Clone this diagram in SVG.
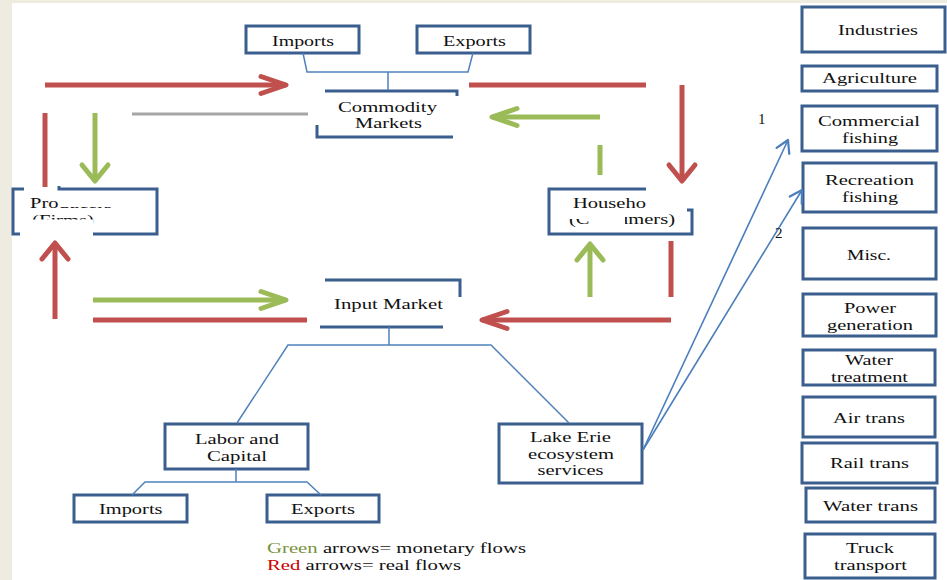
<svg xmlns="http://www.w3.org/2000/svg" width="947" height="580" viewBox="0 0 947 580">
<style>
.bg{fill:#EEECE1}
.box{fill:#fff;stroke:#3A5F8E;stroke-width:3}
.open{fill:none;stroke:#3A5F8E;stroke-width:3}
.patch{fill:#fff}
.t{font-family:"Liberation Serif","Times New Roman","DejaVu Serif",serif;font-size:15px;fill:#111}
.tree{fill:none;stroke:#4F81BD;stroke-width:1.5}
.red{fill:none;stroke:#C0504D;stroke-width:5}
.green{fill:none;stroke:#9BBB59;stroke-width:5}
.blue{fill:none;stroke:#4A7EBB;stroke-width:1.6}
.gray{fill:none;stroke:#A6A6A6;stroke-width:3}
</style>
<defs>
<marker id="rh" viewBox="-30 -15 34 30" refX="0" refY="0" markerWidth="34" markerHeight="30" markerUnits="userSpaceOnUse" orient="auto"><path d="M-25,-8.5 L0,0 L-25,8.5" fill="none" stroke="#C0504D" stroke-width="5" stroke-linecap="round" stroke-linejoin="round"/></marker>
<marker id="rv" viewBox="-22 -18 26 36" refX="0" refY="0" markerWidth="26" markerHeight="36" markerUnits="userSpaceOnUse" orient="auto"><path d="M-16,-13 L0,0 L-16,13" fill="none" stroke="#C0504D" stroke-width="5" stroke-linecap="round" stroke-linejoin="round"/></marker>
<marker id="gh" viewBox="-30 -15 34 30" refX="0" refY="0" markerWidth="34" markerHeight="30" markerUnits="userSpaceOnUse" orient="auto"><path d="M-25,-8.5 L0,0 L-25,8.5" fill="none" stroke="#9BBB59" stroke-width="5" stroke-linecap="round" stroke-linejoin="round"/></marker>
<marker id="gv" viewBox="-22 -18 26 36" refX="0" refY="0" markerWidth="26" markerHeight="36" markerUnits="userSpaceOnUse" orient="auto"><path d="M-16,-13 L0,0 L-16,13" fill="none" stroke="#9BBB59" stroke-width="5" stroke-linecap="round" stroke-linejoin="round"/></marker>
<marker id="bl" viewBox="-16 -10 20 20" refX="0" refY="0" markerWidth="20" markerHeight="20" markerUnits="userSpaceOnUse" orient="auto"><path d="M-12,-7 L0,0 L-12,7" fill="none" stroke="#4A7EBB" stroke-width="2.2" stroke-linecap="round" stroke-linejoin="round"/></marker>
</defs>
<rect class="bg" x="0" y="0" width="947" height="580"/>
<rect fill="#fff" x="12" y="3" width="935" height="577"/>

<g id="imports-top"><rect class="box" x="246" y="26" width="113" height="27"/><text class="t" x="272" y="46" textLength="62" lengthAdjust="spacingAndGlyphs">Imports</text></g>
<g id="exports-top"><rect class="box" x="417" y="26" width="113" height="27"/><text class="t" x="443" y="46" textLength="63" lengthAdjust="spacingAndGlyphs">Exports</text></g>
<g id="commodity-markets"><path class="open" d="M325,91 H457 V96 M317,125 V137 H453"/><text class="t" x="338" y="111.5" textLength="99" lengthAdjust="spacingAndGlyphs">Commodity</text><text class="t" x="355" y="127.5" textLength="67" lengthAdjust="spacingAndGlyphs">Markets</text></g>
<g id="producers"><path class="open" d="M24,189 H13 V234 H20 M59,186 V189 H157 V234 H93"/><text class="t" x="30" y="208" textLength="82" lengthAdjust="spacingAndGlyphs">Producers</text><text class="t" x="32" y="225" textLength="62" lengthAdjust="spacingAndGlyphs">(Firms)</text><rect class="patch" x="58.5" y="192" width="56" height="15"/><rect class="patch" x="20" y="219.5" width="73" height="59"/></g>
<g id="households"><path class="open" d="M646,189 H549 V234 H692 V210 H687"/><text class="t" x="573" y="208" textLength="97" lengthAdjust="spacingAndGlyphs">Households</text><text class="t" x="569" y="224" textLength="106" lengthAdjust="spacingAndGlyphs">(Consumers)</text><rect class="patch" x="646" y="192" width="40" height="16"/><rect class="patch" x="589" y="209" width="36" height="20"/><rect class="patch" x="566" y="209" width="24" height="10"/></g>
<g id="input-market"><path class="open" d="M325,280 H460 V297 M320,327 H443"/><text class="t" x="334" y="309" textLength="109" lengthAdjust="spacingAndGlyphs">Input Market</text></g>
<g id="labor-capital"><rect class="box" x="165" y="424" width="143" height="45"/><text class="t" x="195" y="444" textLength="84" lengthAdjust="spacingAndGlyphs">Labor and</text><text class="t" x="207" y="461" textLength="60" lengthAdjust="spacingAndGlyphs">Capital</text></g>
<g id="lake-erie"><rect class="box" x="499" y="424" width="143" height="59"/><text class="t" x="530" y="442" textLength="81" lengthAdjust="spacingAndGlyphs">Lake Erie</text><text class="t" x="528" y="459" textLength="86" lengthAdjust="spacingAndGlyphs">ecosystem</text><text class="t" x="537.5" y="475" textLength="66" lengthAdjust="spacingAndGlyphs">services</text></g>
<g id="imports-bottom"><rect class="box" x="74" y="495" width="113" height="27"/><text class="t" x="99" y="514" textLength="63.5" lengthAdjust="spacingAndGlyphs">Imports</text></g>
<g id="exports-bottom"><rect class="box" x="267" y="495" width="112" height="27"/><text class="t" x="291" y="514" textLength="64" lengthAdjust="spacingAndGlyphs">Exports</text></g>

<g id="industries"><rect class="box" x="802" y="7" width="143" height="45"/><text class="t" x="838" y="35" textLength="80" lengthAdjust="spacingAndGlyphs">Industries</text></g>
<g id="agriculture"><rect class="box" x="802" y="66" width="135" height="25"/><text class="t" x="822" y="83" textLength="95" lengthAdjust="spacingAndGlyphs">Agriculture</text></g>
<g id="commercial-fishing"><rect class="box" x="802" y="106" width="135" height="45"/><text class="t" x="818" y="126" textLength="102" lengthAdjust="spacingAndGlyphs">Commercial</text><text class="t" x="842" y="143" textLength="56" lengthAdjust="spacingAndGlyphs">fishing</text></g>
<g id="recreation-fishing"><rect class="box" x="803" y="163" width="133" height="49"/><text class="t" x="825" y="185" textLength="89" lengthAdjust="spacingAndGlyphs">Recreation</text><text class="t" x="842" y="201.5" textLength="56" lengthAdjust="spacingAndGlyphs">fishing</text></g>
<g id="misc"><rect class="box" x="803" y="228" width="133" height="51"/><text class="t" x="847" y="260" textLength="44" lengthAdjust="spacingAndGlyphs">Misc.</text></g>
<g id="power-generation"><rect class="box" x="803" y="294" width="133" height="42"/><text class="t" x="844" y="313" textLength="52" lengthAdjust="spacingAndGlyphs">Power</text><text class="t" x="827" y="330" textLength="86" lengthAdjust="spacingAndGlyphs">generation</text></g>
<g id="water-treatment"><rect class="box" x="803" y="350" width="132" height="35"/><text class="t" x="845" y="365" textLength="48" lengthAdjust="spacingAndGlyphs">Water</text><text class="t" x="831" y="381.5" textLength="77" lengthAdjust="spacingAndGlyphs">treatment</text></g>
<g id="air-trans"><rect class="box" x="803" y="397" width="132" height="40"/><text class="t" x="833" y="422.5" textLength="72" lengthAdjust="spacingAndGlyphs">Air trans</text></g>
<g id="rail-trans"><rect class="box" x="802" y="443" width="135" height="40"/><text class="t" x="830" y="468" textLength="79" lengthAdjust="spacingAndGlyphs">Rail trans</text></g>
<g id="water-trans"><rect class="box" x="806" y="488" width="129" height="34"/><text class="t" x="823" y="510.5" textLength="95" lengthAdjust="spacingAndGlyphs">Water trans</text></g>
<g id="truck-transport"><rect class="box" x="805" y="534" width="130" height="44"/><text class="t" x="846" y="553" textLength="48" lengthAdjust="spacingAndGlyphs">Truck</text><text class="t" x="834" y="570" textLength="73" lengthAdjust="spacingAndGlyphs">transport</text></g>

<g id="connectors">
<path class="tree" d="M303,53 L307,72 H468 L473,53 M388,72 V90"/>
<path class="tree" d="M389,327 V345 M237,423 L288,345 H491 L569,423"/>
<path class="tree" d="M236,469 V482 M132,495 L145,482 H307 L321,495"/>
<path class="gray" d="M132,114 H308"/>
<path class="red" d="M45,85 H286" marker-end="url(#rh)"/>
<path class="red" d="M469,85 H646"/>
<path class="red" d="M682,85 V181" marker-end="url(#rv)"/>
<path class="red" d="M45,113 V187"/>
<path class="red" d="M55,319 V243" marker-end="url(#rv)"/>
<path class="red" d="M93,320 H307"/>
<path class="red" d="M671,320 H482" marker-end="url(#rh)"/>
<path class="red" d="M671,241 V297"/>
<path class="green" d="M95,113 V181" marker-end="url(#gv)"/>
<path class="green" d="M600,117 H492" marker-end="url(#gh)"/>
<path class="green" d="M600,145 V175"/>
<path class="green" d="M590,297 V244" marker-end="url(#gv)"/>
<path class="green" d="M93,300 H286" marker-end="url(#gh)"/>
<path class="blue" d="M643,450 L788,140" marker-end="url(#bl)"/>
<path class="blue" d="M643,450 L802,190" marker-end="url(#bl)"/>
</g>
<text class="t" x="758" y="124">1</text>
<text class="t" x="775" y="238">2</text>
<text class="t" x="267" y="553" textLength="259" lengthAdjust="spacingAndGlyphs"><tspan fill="#77933C">Green</tspan> arrows= monetary flows</text>
<text class="t" x="267" y="570" textLength="194" lengthAdjust="spacingAndGlyphs"><tspan fill="#CC0000">Red</tspan> arrows= real flows</text>
</svg>
